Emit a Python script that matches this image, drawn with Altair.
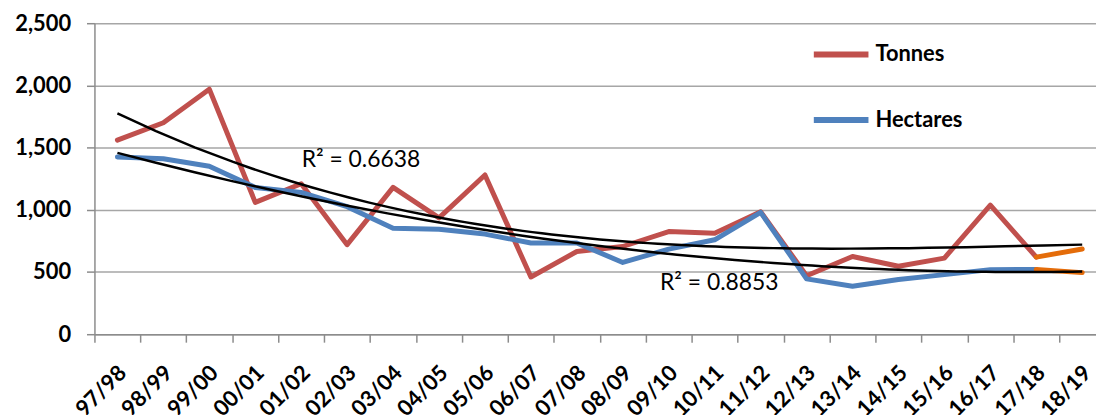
import json

import altair as alt
import pandas as pd

seasons = ["97/98", "98/99", "99/00", "00/01", "01/02", "02/03", "03/04", "04/05",
           "05/06", "06/07", "07/08", "08/09", "09/10", "10/11", "11/12", "12/13",
           "13/14", "14/15", "15/16", "16/17", "17/18", "18/19"]
tonnes = [1560, 1700, 1970, 1060, 1210, 720, 1180, 935, 1280, 460, 665,
          705, 825, 812, 985, 470, 625, 546, 612, 1038, 620, 685]
hectares = [1425, 1410, 1350, 1180, 1140, 1025, 852, 844, 805, 733, 733,
            577, 684, 759, 980, 445, 386, 440, 479, 519, 520, 495]
forecast_from = "17/18"
r2_labels = ["R² = 0.6638", "R² = 0.8853"]

n = len(seasons)
start = seasons.index(forecast_from)
FONT = "Lato"
GREY = "#8c8c8c"

df = pd.DataFrame({
    "season": seasons * 2,
    "idx": list(range(n)) * 2,
    "series": ["Tonnes"] * n + ["Hectares"] * n,
    "value": tonnes + hectares,
})

# annotation anchors (category index, value)
notes = pd.DataFrame({"idx": [5.3, 13.1], "value": [1398, 415], "label": r2_labels})

label_expr = json.dumps(seasons) + "[round(datum.value + 0.5)] || ''"

x = alt.X(
    "idx:Q",
    scale=alt.Scale(domain=[-0.5, n - 0.7], nice=False, zero=False),
    axis=alt.Axis(
        title=None, grid=False, values=[i - 0.5 for i in range(n)],
        labelExpr=label_expr, labelAngle=-45, labelAlign="right",
        labelBaseline="middle", labelOffset=28, labelPadding=27,
        labelFont=FONT, labelFontSize=22, labelFontWeight="bold", labelColor="black",
        labelOverlap=False, labelFlush=False,
        tickSize=8, tickColor=GREY, tickWidth=1.5, domainColor=GREY, domainWidth=1.5,
    ),
)
y = alt.Y(
    "value:Q",
    scale=alt.Scale(domain=[0, 2500], nice=False),
    axis=alt.Axis(
        title=None, values=[0, 500, 1000, 1500, 2000, 2500], format=",d",
        labelFont=FONT, labelFontSize=22, labelFontWeight="bold", labelColor="black",
        labelPadding=16, tickSize=8, tickColor=GREY, tickWidth=1.5,
        domainColor=GREY, domainWidth=1.5, gridColor="#a6a6a6", gridWidth=1.5,
    ),
)

base = alt.Chart(df)

main = base.transform_filter(alt.datum.idx <= start).mark_line(
    strokeWidth=5, strokeCap="round", strokeJoin="round"
).encode(
    x=x, y=y,
    color=alt.Color(
        "series:N",
        scale=alt.Scale(domain=["Tonnes", "Hectares"], range=["#C0504D", "#4F81BD"]),
        legend=alt.Legend(
            title=None, orient="none", legendX=721, legendY=1, padding=0,
            symbolType="stroke", symbolSize=3025, symbolStrokeWidth=6,
            labelFont=FONT, labelFontSize=22, labelFontWeight="bold", labelColor="black",
            labelOffset=4, rowPadding=23,
        ),
    ),
)

forecast = base.transform_filter(alt.datum.idx >= start).mark_line(
    strokeWidth=5, strokeCap="round", color="#E46C0A"
).encode(x=x, y=y, detail="series:N")

trend_t = base.transform_filter(alt.datum.series == "Tonnes").transform_regression(
    "idx", "value", method="poly", order=3
).mark_line(color="black", strokeWidth=2.5).encode(x=x, y=y)

trend_h = base.transform_filter(alt.datum.series == "Hectares").transform_regression(
    "idx", "value", method="poly", order=2
).mark_line(color="black", strokeWidth=2.5).encode(x=x, y=y)

text = alt.Chart(notes).mark_text(font=FONT, fontSize=23, color="black").encode(
    x=x, y=y, text="label:N"
)

chart = alt.layer(main, forecast, trend_t, trend_h, text).properties(
    width=1008, height=313,
    autosize=alt.AutoSizeParams(type="none"),
    padding={"left": 87, "top": 14, "right": 0, "bottom": 80},
).configure_view(stroke="transparent")

chart.save("out.html", embed_options={"renderer": "svg", "actions": False})
